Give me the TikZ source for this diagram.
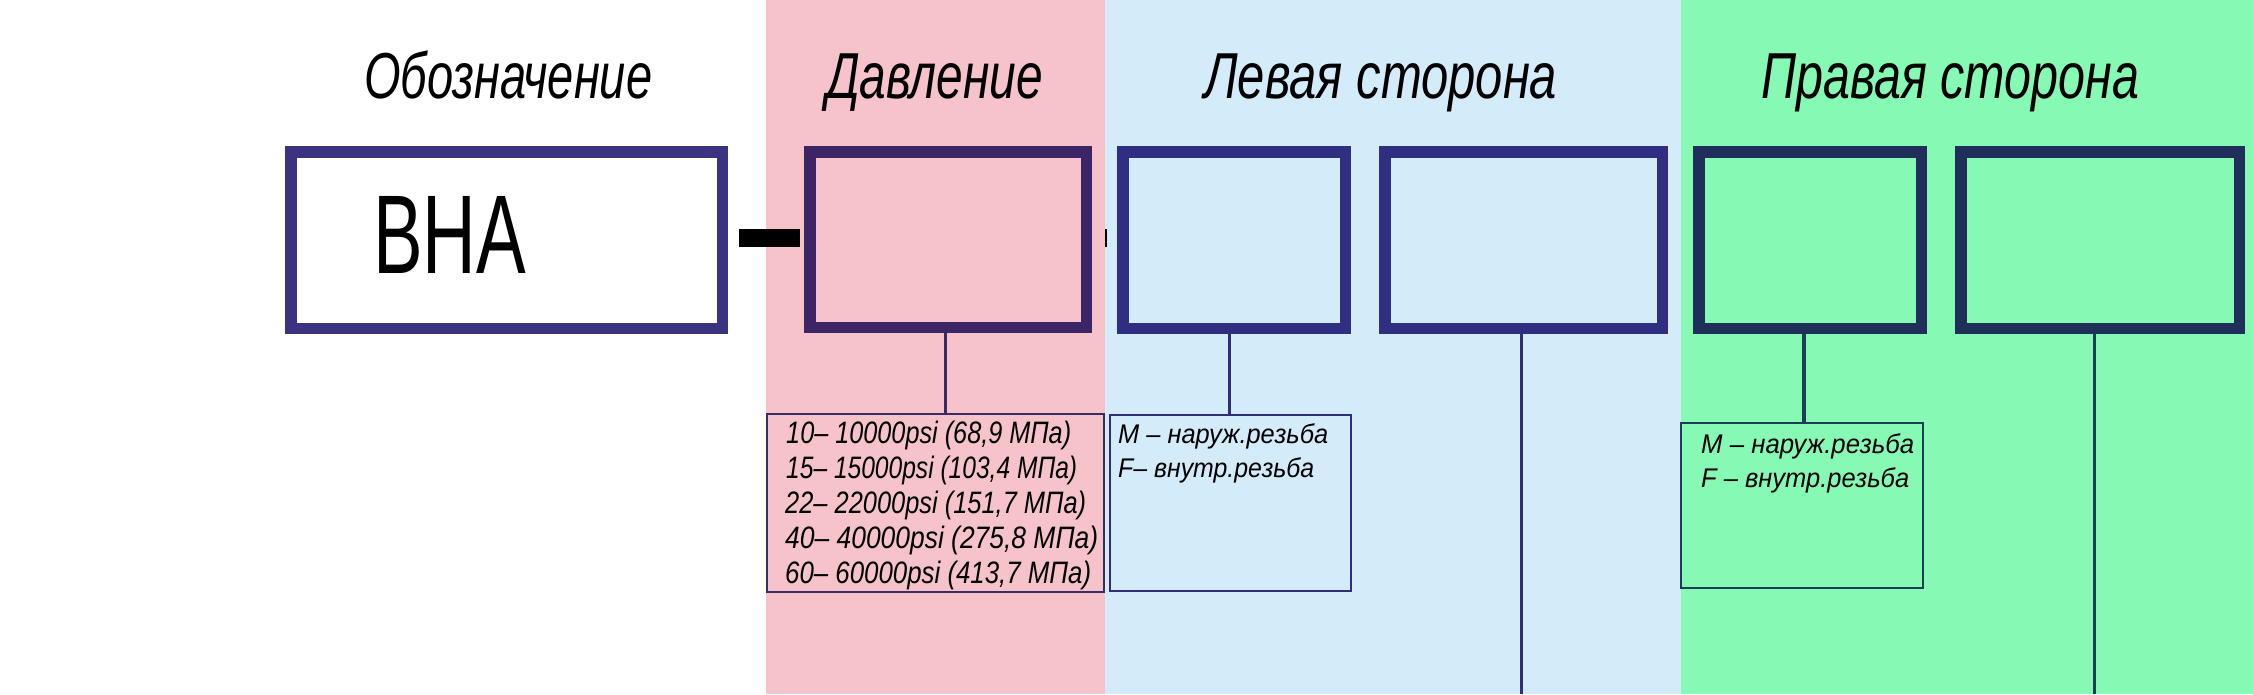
\documentclass[tikz,border=0pt]{standalone}
\usepackage{fontspec}
\setmainfont{Liberation Sans}
\usepackage{graphicx}
\newcommand\fitw[2]{\resizebox{#1}{\height}{#2}}
\definecolor{pinkbg}{HTML}{F5C3C9}
\definecolor{bluebg}{HTML}{D4EBFA}
\definecolor{greenbg}{HTML}{86F9B5}
\definecolor{bordA}{HTML}{3B3282}
\definecolor{bordP}{HTML}{3C2566}
\definecolor{bordL}{HTML}{2F2E80}
\definecolor{bordR}{HTML}{1F2F5A}
\definecolor{thinP}{HTML}{3A2A66}
\definecolor{thinL}{HTML}{2F2E7A}
\definecolor{thinR}{HTML}{1B3D55}
\begin{document}
\begin{tikzpicture}[x=1pt,y=-1pt,
  thickbox/.style={draw, line width=11.5pt, inner sep=0pt, rectangle},
  thinbox/.style={draw, line width=2pt, inner sep=0pt, rectangle},
  conn/.style={line width=3.5pt},
  title/.style={anchor=base west, inner sep=0pt, font=\fontsize{65}{78}\selectfont\itshape},
  bodyp/.style={anchor=base west, inner sep=0pt, font=\fontsize{31}{35}\selectfont\itshape},
  bodym/.style={anchor=base west, inner sep=0pt, font=\fontsize{27}{33}\selectfont\itshape},
]
\useasboundingbox (0,0) rectangle (2253,694);
\fill[white] (0,0) rectangle (766,694);
\fill[pinkbg] (766,0) rectangle (1105,694);
\fill[bluebg] (1105,0) rectangle (1681,694);
\fill[greenbg] (1681,0) rectangle (2253,694);

% titles
\node[title] (t1) at (364,98) {\fitw{288pt}{Обозначение}};
\node[title] (t2) at (826,98) {\fitw{217pt}{Давление}};
\node[title] (t3) at (1204,98) {\fitw{353pt}{Левая сторона}};
\node[title] (t4) at (1761,98) {\fitw{378pt}{Правая сторона}};

% thick boxes
\node[thickbox, bordA, fill=white, minimum width=431.5pt, minimum height=176.5pt] (bha) at (506.5,240) {};
\node[thickbox, bordP, minimum width=276.5pt, minimum height=175.5pt] (prs) at (948,239.5) {};
\node[thickbox, bordL, minimum width=222.5pt, minimum height=176.5pt] (l1) at (1234,240) {};
\node[thickbox, bordL, minimum width=277.5pt, minimum height=176.5pt] (l2) at (1523.5,240) {};
\node[thickbox, bordR, minimum width=222.5pt, minimum height=176.5pt] (r1) at (1810,240) {};
\node[thickbox, bordR, minimum width=278.5pt, minimum height=176.5pt] (r2) at (2100,240) {};

\node[anchor=base west, inner sep=0pt, font=\fontsize{112}{130}\selectfont] (bhatext) at (373,273) {\fitw{153pt}{ВНА}};

% dash and tick
\node[fill=black, inner sep=0pt, minimum width=61pt, minimum height=18pt] (dash) at (769.3,237.7) {};
\node[fill=black, inner sep=0pt, minimum width=1.8pt, minimum height=18pt] (tick) at (1106,237.7) {};

% thin text boxes
\node[thinbox, thinP, minimum width=337pt, minimum height=178pt] (ptxt) at (935.5,503) {};
\node[thinbox, thinL, minimum width=241.4pt, minimum height=176pt] (ltxt) at (1230.3,503) {};
\node[thinbox, thinR, minimum width=242pt, minimum height=165.6pt] (rtxt) at (1802,505.5) {};

% connectors
\coordinate (l2end) at (1521.5,694);
\coordinate (r2end) at (2094.5,694);
\draw[conn, thinP] ([xshift=-2.5pt]prs.south) -- ([xshift=-2.5pt]prs.south |- ptxt.north);
\draw[conn, thinL] ([xshift=-4.5pt]l1.south) -- ([xshift=-4.5pt]l1.south |- ltxt.north);
\draw[conn, thinL] ([xshift=-2pt]l2.south) -- (l2end);
\draw[conn, thinR] ([xshift=-6pt]r1.south) -- ([xshift=-6pt]r1.south |- rtxt.north);
\draw[conn, thinR] ([xshift=-5.5pt]r2.south) -- (r2end);

% text lines
\node[bodyp] (p1) at (786,443) {\fitw{285pt}{10– 10000psi (68,9 МПа)}};
\node[bodyp] (p2) at (786,478) {\fitw{291pt}{15– 15000psi (103,4 МПа)}};
\node[bodyp] (p3) at (785,513) {\fitw{301pt}{22– 22000psi (151,7 МПа)}};
\node[bodyp] (p4) at (785,548) {\fitw{313pt}{40– 40000psi (275,8 МПа)}};
\node[bodyp] (p5) at (785,583) {\fitw{306pt}{60– 60000psi (413,7 МПа)}};

\node[bodym] (lm) at (1118,443) {\fitw{210pt}{M – наруж.резьба}};
\node[bodym] (lf) at (1118,477) {\fitw{196pt}{F– внутр.резьба}};
\node[bodym] (rm) at (1701,453) {\fitw{213pt}{M – наруж.резьба}};
\node[bodym] (rf) at (1701,487) {\fitw{208pt}{F – внутр.резьба}};
\end{tikzpicture}
\end{document}
